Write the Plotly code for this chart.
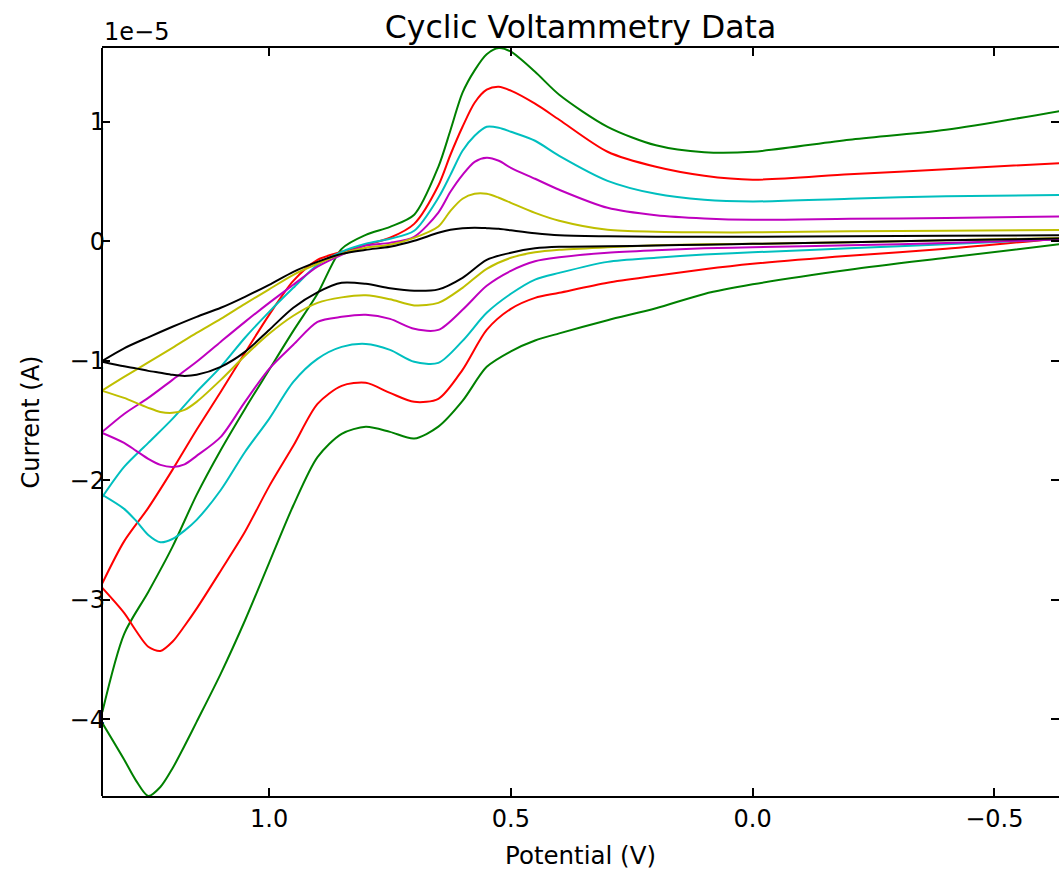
import plotly.graph_objects as go

SCALE = 1e-5  # currents below are read in units of 1e-5 A

# potentials of the upper (oxidation) branch, left to right, and the lower branch, right to left
E_UP = [1.345, 1.30, 1.25, 1.20, 1.15, 1.10, 1.05, 1.00, 0.95, 0.90,
        0.85, 0.80, 0.75, 0.70, 0.65, 0.625, 0.60, 0.575, 0.55, 0.525,
        0.50, 0.45, 0.40, 0.30, 0.20, 0.10, 0.00, -0.20, -0.40, -0.65]
E_DOWN = [-0.65, -0.40, -0.20, 0.00, 0.10, 0.20, 0.30, 0.40, 0.45, 0.50,
          0.55, 0.60, 0.65, 0.70, 0.75, 0.80, 0.85, 0.90, 0.95, 1.00,
          1.05, 1.10, 1.15, 1.175, 1.20, 1.225, 1.25, 1.275, 1.30, 1.345]

I_UP_GREEN = [-3.937, -3.285, -2.933, -2.556, -2.121, -1.745, -1.402, -1.075, -0.749, -0.439,
              -0.063, 0.054, 0.121, 0.222, 0.623, 0.929, 1.243, 1.43, 1.565, 1.617,
              1.586, 1.418, 1.226, 0.958, 0.803, 0.745, 0.749, 0.849, 0.933, 1.10]
I_DOWN_GREEN = [-0.017, -0.138, -0.238, -0.36, -0.44, -0.56, -0.66, -0.77, -0.83, -0.92,
                -1.05, -1.335, -1.55, -1.65, -1.594, -1.552, -1.61, -1.805, -2.21, -2.69,
                -3.172, -3.616, -4.02, -4.22, -4.41, -4.565, -4.64, -4.513, -4.335, -4.03]

I_UP_RED = [-2.86, -2.51, -2.23, -1.912, -1.577, -1.259, -0.933, -0.615, -0.331, -0.155,
            -0.088, -0.03, 0.03, 0.146, 0.467, 0.724, 0.958, 1.159, 1.268, 1.293,
            1.26, 1.151, 1.017, 0.749, 0.623, 0.548, 0.515, 0.561, 0.603, 0.657]
I_DOWN_RED = [0.03, -0.063, -0.121, -0.188, -0.234, -0.289, -0.347, -0.431, -0.473, -0.565,
              -0.741, -1.075, -1.318, -1.343, -1.268, -1.184, -1.209, -1.36, -1.711, -2.05,
              -2.43, -2.755, -3.073, -3.218, -3.35, -3.427, -3.391, -3.26, -3.109, -2.90]

I_UP_CYAN = [-2.138, -1.887, -1.686, -1.485, -1.259, -1.05, -0.807, -0.59, -0.389, -0.197,
             -0.088, -0.021, 0.021, 0.088, 0.364, 0.556, 0.757, 0.883, 0.958, 0.95,
             0.916, 0.841, 0.715, 0.506, 0.397, 0.347, 0.333, 0.356, 0.377, 0.389]
I_DOWN_CYAN = [0.021, -0.025, -0.059, -0.092, -0.111, -0.138, -0.172, -0.264, -0.32, -0.439,
               -0.598, -0.833, -1.017, -1.008, -0.908, -0.858, -0.883, -0.983, -1.176, -1.485,
               -1.762, -2.08, -2.33, -2.42, -2.49, -2.517, -2.456, -2.339, -2.238, -2.121]

I_UP_MAGENTA = [-1.594, -1.444, -1.31, -1.159, -1.008, -0.84, -0.674, -0.515, -0.364, -0.213,
                -0.113, -0.036, -0.013, 0.038, 0.24, 0.414, 0.556, 0.665, 0.699, 0.674,
                0.615, 0.523, 0.431, 0.28, 0.218, 0.191, 0.18, 0.188, 0.194, 0.209]
I_DOWN_MAGENTA = [0.017, -0.015, -0.033, -0.049, -0.059, -0.075, -0.096, -0.134, -0.167, -0.247,
                  -0.372, -0.573, -0.741, -0.732, -0.649, -0.615, -0.632, -0.674, -0.866, -1.067,
                  -1.343, -1.636, -1.795, -1.866, -1.887, -1.87, -1.82, -1.753, -1.686, -1.603]

I_UP_YELLOW = [-1.247, -1.134, -1.013, -0.891, -0.766, -0.649, -0.523, -0.402, -0.28, -0.188,
               -0.105, -0.054, -0.029, 0.029, 0.124, 0.255, 0.356, 0.397, 0.397, 0.364,
               0.322, 0.238, 0.172, 0.096, 0.08, 0.075, 0.075, 0.084, 0.088, 0.096]
I_DOWN_YELLOW = [0.029, 0.008, -0.008, -0.021, -0.025, -0.033, -0.05, -0.071, -0.092, -0.138,
                 -0.23, -0.389, -0.515, -0.536, -0.485, -0.452, -0.469, -0.515, -0.623, -0.774,
                 -0.958, -1.159, -1.343, -1.41, -1.435, -1.427, -1.393, -1.351, -1.31, -1.251]

I_UP_BLACK = [-1.00, -0.895, -0.803, -0.715, -0.632, -0.556, -0.464, -0.364, -0.255, -0.172,
              -0.105, -0.071, -0.046, 0.004, 0.071, 0.096, 0.109, 0.113, 0.11, 0.105,
              0.092, 0.067, 0.05, 0.042, 0.038, 0.038, 0.038, 0.042, 0.046, 0.05]
I_DOWN_BLACK = [0.025, 0.008, -0.008, -0.021, -0.028, -0.035, -0.042, -0.046, -0.059, -0.096,
                -0.155, -0.305, -0.402, -0.414, -0.393, -0.356, -0.347, -0.427, -0.556, -0.741,
                -0.925, -1.05, -1.117, -1.126, -1.117, -1.10, -1.084, -1.063, -1.046, -1.008]

CURVES = [
    ("#008000", I_UP_GREEN, I_DOWN_GREEN),
    ("#ff0000", I_UP_RED, I_DOWN_RED),
    ("#00bfbf", I_UP_CYAN, I_DOWN_CYAN),
    ("#bf00bf", I_UP_MAGENTA, I_DOWN_MAGENTA),
    ("#bfbf00", I_UP_YELLOW, I_DOWN_YELLOW),
    ("#000000", I_UP_BLACK, I_DOWN_BLACK),
]

Y_TICKS = [1, 0, -1, -2, -3, -4]
X_TICKS = [1.0, 0.5, 0.0, -0.5]

FONT = "DejaVu Sans"

fig = go.Figure()
for color, up, down in CURVES:
    for pot, cur in ((E_UP, up), (E_DOWN, down)):
        fig.add_trace(
            go.Scatter(
                x=pot,
                y=[c * SCALE for c in cur],
                mode="lines",
                line=dict(color=color, width=2, shape="spline", smoothing=0.8),
                showlegend=False,
                hoverinfo="skip",
            )
        )

fig.update_layout(
    width=1059,
    height=871,
    paper_bgcolor="white",
    plot_bgcolor="white",
    margin=dict(l=102, r=0, t=48, b=75, autoexpand=False),
    font=dict(family=FONT, size=24, color="black"),
    title=dict(
        text="Cyclic Voltammetry Data",
        x=0.5, xref="paper", xanchor="center",
        y=1 - 27 / 871, yref="container", yanchor="middle",
        font=dict(size=31.5),
    ),
    xaxis=dict(
        range=[1.3457, -0.6337],
        tickvals=X_TICKS,
        ticktext=[f"{v:.1f}".replace("-", "\u2212") for v in X_TICKS],
        ticks="inside", ticklen=8, tickwidth=1.5, tickcolor="black",
        showline=True, linecolor="black", linewidth=2, mirror="allticks",
        showgrid=False, zeroline=False,
        ticklabelstandoff=0,
        automargin=False,
        title=dict(text="Potential (V)", standoff=15, font=dict(size=24.5)),
    ),
    yaxis=dict(
        range=[-4.64 * SCALE, 1.617 * SCALE],
        tickvals=[v * SCALE for v in Y_TICKS],
        ticktext=[str(v).replace("-", "\u2212") for v in Y_TICKS],
        ticks="inside", ticklen=8, tickwidth=1.5, tickcolor="black",
        showline=False, mirror="ticks",
        showgrid=False, zeroline=False,
        ticklabelstandoff=-4,
        automargin=False,
        title=dict(text="Current (A)", standoff=23, font=dict(size=24)),
    ),
    shapes=[
        dict(type="line", xref="paper", yref="paper", x0=0, x1=0, y0=0, y1=1,
             line=dict(color="black", width=2)),
    ],
    annotations=[
        dict(text="1e\u22125", xref="paper", yref="paper", x=0, y=1,
             xanchor="left", yanchor="bottom", yshift=0, showarrow=False,
             font=dict(size=24)),
    ],
)

# drop the browser's default 8px body margin so the figure sits at the page origin
fig.write_html(
    "out.html",
    config={"displayModeBar": False},
    post_script="document.body.style.margin = '0';",
)
